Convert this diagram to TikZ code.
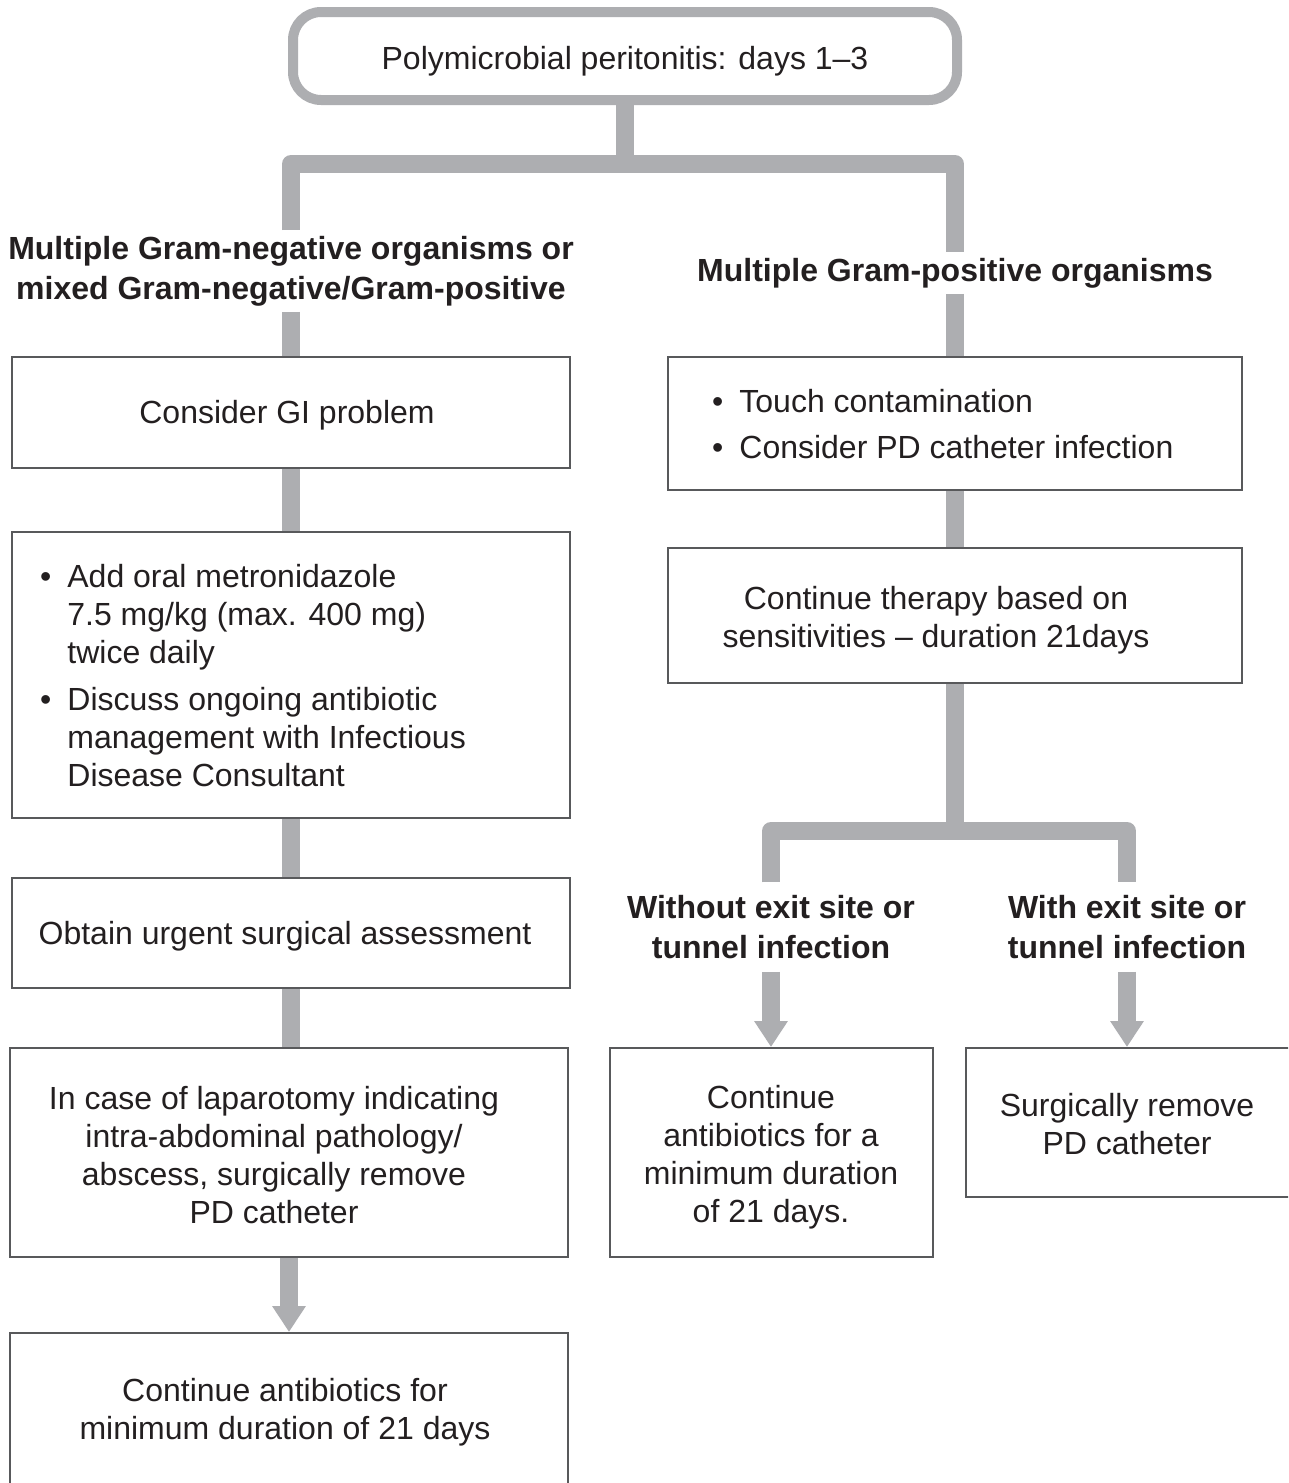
\documentclass[tikz,border=0pt]{standalone}
\usepackage{fontspec}
\setmainfont{Liberation Sans}
\usetikzlibrary{arrows.meta}
\definecolor{conngray}{HTML}{ADAEB1}
\definecolor{boxline}{HTML}{58595B}
\definecolor{ink}{HTML}{231F20}
\begin{document}
\begin{tikzpicture}[x=1pt,y=-1pt,
  conn/.style={draw=conngray, line width=18pt},
  connarrow/.style={draw=conngray, line width=18pt, -{Triangle[width=32pt,length=26pt]}},
  box/.style={draw=boxline, line width=2pt, fill=white, inner sep=0pt, outer sep=1pt,
    align=center, text=ink, font=\fontsize{32}{38}\selectfont},
  txt/.style={inner sep=0pt, align=center, text=ink, font=\fontsize{32}{38}\selectfont},
  heading/.style={inner sep=0pt, outer sep=6pt, align=center, text=ink,
    font=\bfseries\fontsize{32}{40}\selectfont},
  topbox/.style={draw=conngray, line width=10pt, rounded corners=28pt, fill=white,
    inner sep=0pt, outer sep=0pt}]
\useasboundingbox (0,0) rectangle (1288,1483);
\clip (0,0) rectangle (1288,1483);
\fill[white] (0,0) rectangle (1288,1483);

% top
\node[topbox, minimum width=664pt, minimum height=88pt] (top) at (625,56) {};
\node[txt] (topt) at (625,61) {Polymicrobial peritonitis: days 1--3};
\coordinate (bar) at (625,164);

% headings
\node[heading] (hl) at (291,271) {Multiple Gram-negative organisms or\\mixed Gram-negative/Gram-positive};
\node[heading] (hr) at (955,273) {Multiple Gram-positive organisms};

% left column boxes
\node[box, minimum width=558pt, minimum height=111pt] (l1) at (291,412.5) {};
\node[txt] (l1t) at (287,415) {Consider GI problem};
\node[box, minimum width=558pt, minimum height=286pt] (l2) at (291,675) {};
\node[txt, anchor=west, align=left] (l2t) at (40,679) {\begin{tabular}{@{}l@{\hspace{16pt}}l@{}}
\textbullet & Add oral metronidazole\\
 & 7.5 mg/kg (max. 400 mg)\\
 & twice daily\\[9pt]
\textbullet & Discuss ongoing antibiotic\\
 & management with Infectious\\
 & Disease Consultant
\end{tabular}};
\node[box, minimum width=558pt, minimum height=110pt] (l3) at (291,933) {};
\node[txt] (l3t) at (285,936) {Obtain urgent surgical assessment};
\node[box, minimum width=558pt, minimum height=209pt] (l4) at (289,1152.5) {};
\node[txt] (l4t) at (274,1155) {In case of laparotomy indicating\\intra-abdominal pathology/\\abscess, surgically remove\\PD catheter};
\node[box, minimum width=558pt, minimum height=187pt] (l5) at (289,1426.5) {};
\node[txt] (l5t) at (285,1412) {Continue antibiotics for\\minimum duration of 21 days};

% right column boxes
\node[box, minimum width=574pt, minimum height=133pt] (r1) at (955,423.5) {};
\node[txt, anchor=west, align=left] (r1t) at (712,428) {\begin{tabular}{@{}l@{\hspace{16pt}}l@{}}
\textbullet & Touch contamination\\[8pt]
\textbullet & Consider PD catheter infection
\end{tabular}};
\node[box, minimum width=574pt, minimum height=135pt] (r2) at (955,615.5) {};
\node[txt] (r2t) at (936,620) {Continue therapy based on\\sensitivities -- duration 21days};
\coordinate (bar2) at (955,831);
\node[heading, outer sep=13pt] (hw) at (771,927) {Without exit site or\\tunnel infection};
\node[heading, outer sep=13pt] (hx) at (1127,927) {With exit site or\\tunnel infection};
\node[box, minimum width=323pt, minimum height=209pt] (r3) at (771.5,1152.5) {};
\node[txt] (r3t) at (771,1157) {Continue\\antibiotics for a\\minimum duration\\of 21 days.};
\node[box, minimum width=334pt, minimum height=149pt] (r4) at (1133,1122.5) {};
\node[txt] (r4t) at (1127,1124) {Surgically remove\\PD catheter};

% connectors
\draw[conn] (top.south) -- (top.south |- bar);
\draw[conn, line join=round] (hl.north) -- (hl.north |- bar) -- (hr.north |- bar) -- (hr.north);
\draw[conn] (hl.south) -- (hl.south |- l1.north);
\draw[conn] (l1.south) -- (l2.north);
\draw[conn] (l2.south) -- (l3.north);
\draw[conn] (l3.south) -- (l3.south |- l4.north);
\draw[connarrow] (l4.south) -- (l5.north);
\draw[conn] (hr.south) -- (hr.south |- r1.north);
\draw[conn] (r1.south) -- (r2.north);
\draw[conn] (r2.south) -- (r2.south |- bar2);
\draw[conn, line join=round] (hw.north) -- (hw.north |- bar2) -- (hx.north |- bar2) -- (hx.north);
\draw[connarrow] (hw.south) -- (hw.south |- r3.north);
\draw[connarrow] (hx.south) -- (hx.south |- r4.north);
\end{tikzpicture}
\end{document}
